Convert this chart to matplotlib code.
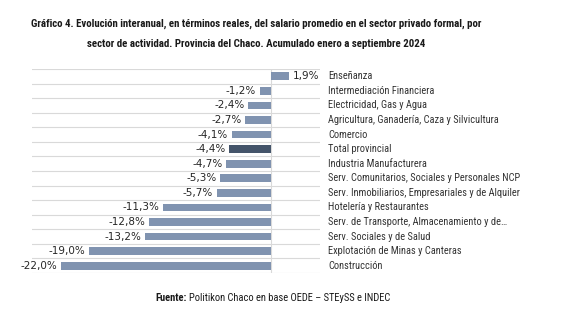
import matplotlib.pyplot as plt
from matplotlib import font_manager

sectores = [
    "Enseñanza",
    "Intermediación Financiera",
    "Electricidad, Gas y Agua",
    "Agricultura, Ganadería, Caza y Silvicultura",
    "Comercio",
    "Total provincial",
    "Industria Manufacturera",
    "Serv. Comunitarios, Sociales y Personales NCP",
    "Serv. Inmobiliarios, Empresariales y de Alquiler",
    "Hotelería y Restaurantes",
    "Serv. de Transporte, Almacenamiento y de…",
    "Serv. Sociales y de Salud",
    "Explotación de Minas y Canteras",
    "Construcción",
]
variacion = [1.9, -1.2, -2.4, -2.7, -4.1, -4.4, -4.7, -5.3, -5.7, -11.3, -12.8, -13.2, -19.0, -22.0]
destacado = "Total provincial"

names = {f.name for f in font_manager.fontManager.ttflist}
narrow = [f for f in ["Liberation Sans Narrow", "Roboto Condensed", "Open Sans Condensed"] if f in names]
cond = narrow + ["Liberation Sans", "DejaVu Sans"]

COLOR_BAR = "#8093b0"
COLOR_TOT = "#44546a"
COLOR_GRID = "#d9d9d9"

fig = plt.figure(figsize=(5.62, 3.23), dpi=100)
ax = fig.add_axes([32 / 562, 1 - 273 / 323, 288 / 562, 204 / 323])

y = list(range(len(sectores)))
colores = [COLOR_TOT if s == destacado else COLOR_BAR for s in sectores]
ax.barh(y, variacion, height=0.52, color=colores, zorder=2)

ax.set_xlim(-25, 5.1)
ax.set_ylim(len(sectores) - 0.5, -0.5)
for k in range(len(sectores) + 1):
    ax.axhline(k - 0.5, color=COLOR_GRID, lw=0.8, zorder=0)
ax.axvline(0, color=COLOR_GRID, lw=0.8, zorder=1)
ax.axis("off")

for yi, v in zip(y, variacion):
    txt = f"{v:.1f}%".replace(".", ",")
    if v < 0:
        ax.text(v - 0.4, yi, txt, ha="right", va="center", fontsize=7.5, color="#262626")
    else:
        ax.text(v + 0.4, yi, txt, ha="left", va="center", fontsize=7.5, color="#262626")

tr = ax.get_yaxis_transform()
for yi, s in zip(y, sectores):
    ax.text(1.028, yi, s, transform=tr, ha="left", va="center", fontsize=7.5,
            color="#333333", family=cond)

fig.text(0.455, 1 - 24 / 323,
         "Gráfico 4. Evolución interanual, en términos reales, del salario promedio en el sector privado formal, por",
         ha="center", va="center", fontsize=7.8, fontweight="bold", family=cond, color="#1a1a1a")
fig.text(0.455, 1 - 44 / 323,
         "sector de actividad. Provincia del Chaco. Acumulado enero a septiembre 2024",
         ha="center", va="center", fontsize=7.8, fontweight="bold", family=cond, color="#1a1a1a")

t1 = fig.text(155 / 562, 1 - 298 / 323, "Fuente:", ha="left", va="center",
              fontsize=7.6, fontweight="bold", family=cond, color="#1a1a1a")
fig.canvas.draw()
bb = t1.get_window_extent()
fig.text(bb.x1 / fig.bbox.width + 0.004, 1 - 298 / 323,
         "Politikon Chaco en base OEDE – STEySS e INDEC", ha="left", va="center",
         fontsize=7.6, family=cond, color="#1a1a1a")

fig.savefig("out.png", dpi=100, facecolor="white")
